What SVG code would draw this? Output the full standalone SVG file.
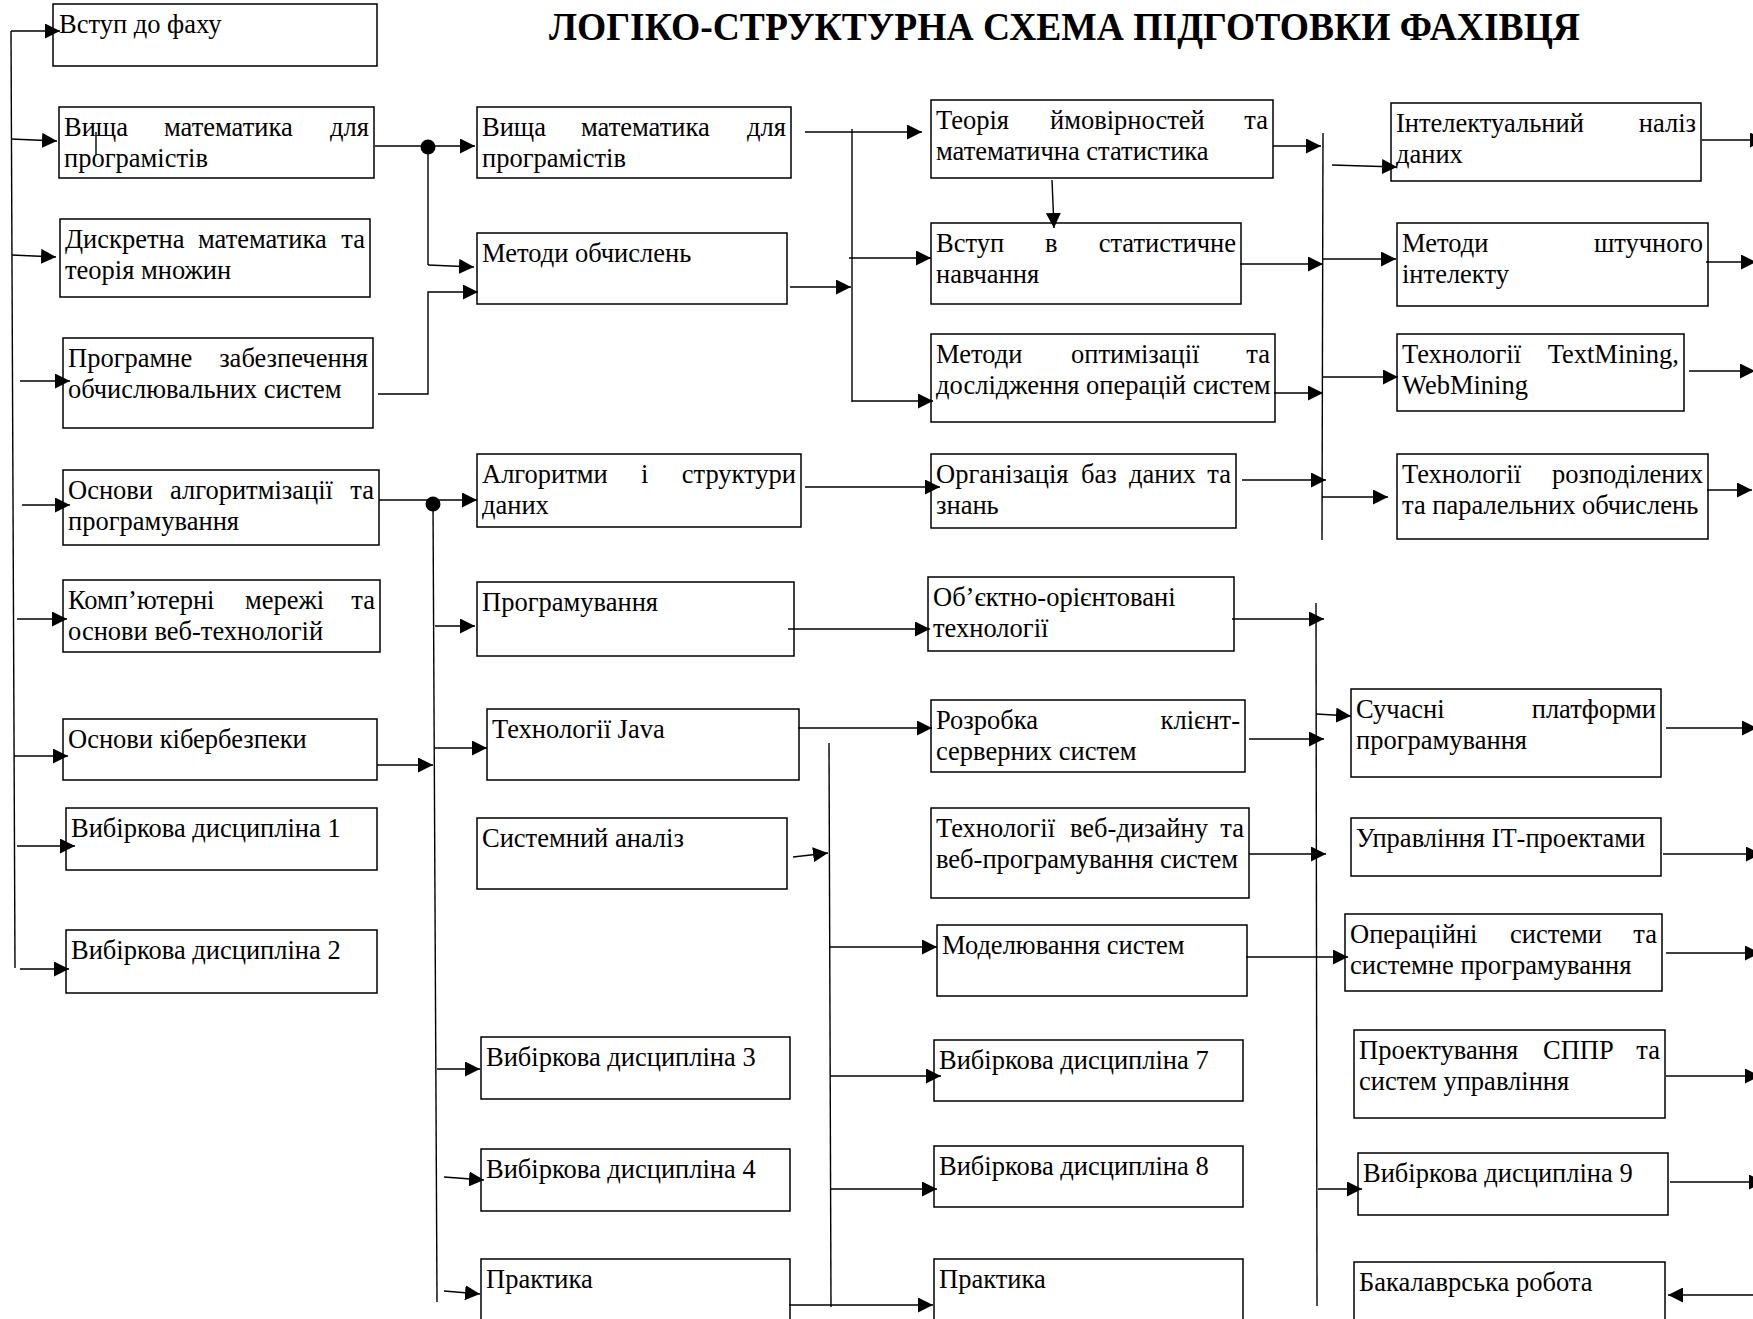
<svg xmlns="http://www.w3.org/2000/svg" width="1753" height="1319" viewBox="0 0 1753 1319">
<style>
.bg{fill:#fff}
.box{fill:#fff;stroke:#000;stroke-width:1.5}
.t{font-family:"Liberation Serif","Times New Roman",serif;font-size:26.5px;fill:#000}
.e{text-anchor:end}
.title{font-family:"Liberation Serif","Times New Roman",serif;font-size:41px;font-weight:bold;fill:#000}
.c{stroke:#000;stroke-width:1.4;fill:none}
.a{stroke:#000;stroke-width:1.4;fill:none;marker-end:url(#ah)}
.dot{fill:#000}
</style>
<defs>
<marker id="ah" viewBox="0 0 15 15" refX="15" refY="7.5" markerWidth="15" markerHeight="15" markerUnits="userSpaceOnUse" orient="auto"><path d="M0,0 L15,7.5 L0,15 z" fill="#000"/></marker>
</defs>
<rect class="bg" x="0" y="0" width="1753" height="1319"/>
<text class="title" x="549" y="40" textLength="1031" lengthAdjust="spacingAndGlyphs">ЛОГІКО-СТРУКТУРНА СХЕМА ПІДГОТОВКИ ФАХІВЦЯ</text>

<!-- Column 1 -->
<g id="n1"><rect class="box" x="53" y="4" width="324" height="62"/><text class="t" x="59" y="33">Вступ до фаху</text></g>
<g id="n2"><rect class="box" x="59" y="107" width="315" height="71"/><text class="t" x="64" y="136">Вища</text><text class="t" x="164" y="136">математика</text><text class="t e" x="369" y="136">для</text><text class="t" x="64" y="167">програмістів</text></g>
<g id="n3"><rect class="box" x="60" y="219" width="310" height="78"/><text class="t" x="65" y="248">Дискретна</text><text class="t" x="198" y="248">математика</text><text class="t e" x="365" y="248">та</text><text class="t" x="65" y="279">теорія множин</text></g>
<g id="n4"><rect class="box" x="63" y="338" width="310" height="90"/><text class="t" x="68" y="367">Програмне</text><text class="t e" x="368" y="367">забезпечення</text><text class="t" x="68" y="398">обчислювальних систем</text></g>
<g id="n5"><rect class="box" x="63" y="470" width="316" height="75"/><text class="t" x="68" y="499">Основи</text><text class="t" x="170" y="499">алгоритмізації</text><text class="t e" x="374" y="499">та</text><text class="t" x="68" y="530">програмування</text></g>
<g id="n6"><rect class="box" x="63" y="580" width="317" height="72"/><text class="t" x="68" y="609">Комп’ютерні</text><text class="t" x="245" y="609">мережі</text><text class="t e" x="375" y="609">та</text><text class="t" x="68" y="640">основи веб-технологій</text></g>
<g id="n7"><rect class="box" x="63" y="719" width="314" height="61"/><text class="t" x="68" y="748">Основи кібербезпеки</text></g>
<g id="n8"><rect class="box" x="66" y="808" width="311" height="62"/><text class="t" x="71" y="837">Вибіркова дисципліна 1</text></g>
<g id="n9"><rect class="box" x="66" y="930" width="311" height="63"/><text class="t" x="71" y="959">Вибіркова дисципліна 2</text></g>

<!-- Column 2 -->
<g id="m1"><rect class="box" x="477" y="107" width="314" height="71"/><text class="t" x="482" y="136">Вища</text><text class="t" x="581" y="136">математика</text><text class="t e" x="786" y="136">для</text><text class="t" x="482" y="167">програмістів</text></g>
<g id="m2"><rect class="box" x="477" y="233" width="310" height="71"/><text class="t" x="482" y="262">Методи обчислень</text></g>
<g id="m3"><rect class="box" x="477" y="454" width="324" height="73"/><text class="t" x="482" y="483">Алгоритми</text><text class="t" x="641" y="483">і</text><text class="t e" x="796" y="483">структури</text><text class="t" x="482" y="514">даних</text></g>
<g id="m4"><rect class="box" x="477" y="582" width="317" height="74"/><text class="t" x="482" y="611">Програмування</text></g>
<g id="m5"><rect class="box" x="487" y="709" width="312" height="71"/><text class="t" x="492" y="738">Технології Java</text></g>
<g id="m6"><rect class="box" x="477" y="818" width="310" height="71"/><text class="t" x="482" y="847">Системний аналіз</text></g>
<g id="m7"><rect class="box" x="481" y="1037" width="309" height="62"/><text class="t" x="486" y="1066">Вибіркова дисципліна 3</text></g>
<g id="m8"><rect class="box" x="481" y="1149" width="309" height="62"/><text class="t" x="486" y="1178">Вибіркова дисципліна 4</text></g>
<g id="m9"><rect class="box" x="481" y="1259" width="309" height="80"/><text class="t" x="486" y="1288">Практика</text></g>

<!-- Column 3 -->
<g id="k1"><rect class="box" x="931" y="100" width="342" height="78"/><text class="t" x="936" y="129">Теорія</text><text class="t" x="1050" y="129">ймовірностей</text><text class="t e" x="1268" y="129">та</text><text class="t" x="936" y="160">математична статистика</text></g>
<g id="k2"><rect class="box" x="931" y="223" width="310" height="81"/><text class="t" x="936" y="252">Вступ</text><text class="t" x="1045" y="252">в</text><text class="t e" x="1236" y="252">статистичне</text><text class="t" x="936" y="283">навчання</text></g>
<g id="k3"><rect class="box" x="931" y="334" width="344" height="88"/><text class="t" x="936" y="363">Методи</text><text class="t" x="1071" y="363">оптимізації</text><text class="t e" x="1270" y="363">та</text><text class="t" x="936" y="394">дослідження операцій систем</text></g>
<g id="k4"><rect class="box" x="931" y="454" width="305" height="74"/><text class="t" x="936" y="483">Організація</text><text class="t" x="1081" y="483">баз</text><text class="t" x="1129" y="483">даних</text><text class="t e" x="1231" y="483">та</text><text class="t" x="936" y="514">знань</text></g>
<g id="k5"><rect class="box" x="928" y="577" width="306" height="74"/><text class="t" x="933" y="606">Об’єктно-орієнтовані</text><text class="t" x="933" y="637">технології</text></g>
<g id="k6"><rect class="box" x="931" y="700" width="314" height="72"/><text class="t" x="936" y="729">Розробка</text><text class="t e" x="1240" y="729">клієнт-</text><text class="t" x="936" y="760">серверних систем</text></g>
<g id="k7"><rect class="box" x="931" y="808" width="318" height="90"/><text class="t" x="936" y="837">Технології</text><text class="t" x="1070" y="837">веб-дизайну</text><text class="t e" x="1244" y="837">та</text><text class="t" x="936" y="868">веб-програмування систем</text></g>
<g id="k8"><rect class="box" x="937" y="925" width="310" height="71"/><text class="t" x="942" y="954">Моделювання систем</text></g>
<g id="k9"><rect class="box" x="934" y="1040" width="309" height="61"/><text class="t" x="939" y="1069">Вибіркова дисципліна 7</text></g>
<g id="k10"><rect class="box" x="934" y="1146" width="309" height="61"/><text class="t" x="939" y="1175">Вибіркова дисципліна 8</text></g>
<g id="k11"><rect class="box" x="934" y="1259" width="309" height="80"/><text class="t" x="939" y="1288">Практика</text></g>

<!-- Column 4 -->
<g id="p1"><rect class="box" x="1391" y="103" width="310" height="78"/><text class="t" x="1396" y="132">Інтелектуальний</text><text class="t e" x="1696" y="132">наліз</text><text class="t" x="1396" y="163">даних</text></g>
<g id="p2"><rect class="box" x="1397" y="223" width="311" height="83"/><text class="t" x="1402" y="252">Методи</text><text class="t e" x="1703" y="252">штучного</text><text class="t" x="1402" y="283">інтелекту</text></g>
<g id="p3"><rect class="box" x="1397" y="334" width="287" height="77"/><text class="t" x="1402" y="363">Технології</text><text class="t e" x="1679" y="363">TextMining,</text><text class="t" x="1402" y="394">WebMining</text></g>
<g id="p4"><rect class="box" x="1397" y="454" width="311" height="85"/><text class="t" x="1402" y="483">Технології</text><text class="t e" x="1703" y="483">розподілених</text><text class="t" x="1402" y="514">та паралельних обчислень</text></g>
<g id="p5"><rect class="box" x="1351" y="689" width="310" height="88"/><text class="t" x="1356" y="718">Сучасні</text><text class="t e" x="1656" y="718">платформи</text><text class="t" x="1356" y="749">програмування</text></g>
<g id="p6"><rect class="box" x="1351" y="818" width="310" height="58"/><text class="t" x="1356" y="847">Управління ІТ-проектами</text></g>
<g id="p7"><rect class="box" x="1345" y="914" width="317" height="77"/><text class="t" x="1350" y="943">Операційні</text><text class="t" x="1510" y="943">системи</text><text class="t e" x="1657" y="943">та</text><text class="t" x="1350" y="974">системне програмування</text></g>
<g id="p8"><rect class="box" x="1354" y="1030" width="311" height="88"/><text class="t" x="1359" y="1059">Проектування</text><text class="t" x="1543" y="1059">СППР</text><text class="t e" x="1660" y="1059">та</text><text class="t" x="1359" y="1090">систем управління</text></g>
<g id="p9"><rect class="box" x="1358" y="1153" width="310" height="62"/><text class="t" x="1363" y="1182">Вибіркова дисципліна 9</text></g>
<g id="p10"><rect class="box" x="1354" y="1262" width="311" height="80"/><text class="t" x="1359" y="1291">Бакалаврська робота</text></g>

<g id="connectors">
<!-- left bus -->
<path class="c" d="M11,31 L15,968"/>
<path class="a" d="M11,31 L60,31"/>
<path class="a" d="M11,139 L57,141"/>
<path class="a" d="M12,255 L56,257"/>
<path class="a" d="M20,381 L70,381"/>
<path class="a" d="M22,505 L70,505"/>
<path class="a" d="M17,619 L67,619"/>
<path class="a" d="M14,756 L68,756"/>
<path class="a" d="M17,846 L75,846"/>
<path class="a" d="M20,969 L69,969"/>
<path class="c" d="M96,132 L96,155"/>
<!-- col1 to col2 -->
<path class="c" d="M375,146 L428,146"/>
<circle class="dot" cx="428" cy="147" r="7.5"/>
<path class="a" d="M428,146 L475,146"/>
<path class="c" d="M428,147 L428,265"/>
<path class="a" d="M428,265 L474,267"/>
<path class="a" d="M378,394 H428 V292 H478"/>
<path class="c" d="M379,500 L433,500"/>
<circle class="dot" cx="433" cy="504" r="7.5"/>
<path class="a" d="M433,500 L477,500"/>
<path class="c" d="M433,504 L437,1302"/>
<path class="a" d="M435,626 L475,626"/>
<path class="a" d="M435,748 L487,748"/>
<path class="a" d="M437,1069 L480,1069"/>
<path class="a" d="M444,1177 L484,1180"/>
<path class="a" d="M444,1291 L480,1294"/>
<path class="a" d="M377,765 L433,765"/>
<!-- col2 to col3 -->
<path class="a" d="M805,132 L922,132"/>
<path class="c" d="M852,129 L852,402"/>
<path class="a" d="M790,287 L851,287"/>
<path class="a" d="M849,258 L931,258"/>
<path class="a" d="M852,401 L933,401"/>
<path class="a" d="M1052,180 L1054,228"/>
<path class="a" d="M805,487 L940,487"/>
<path class="a" d="M788,629 L930,629"/>
<path class="a" d="M798,728 L932,728"/>
<path class="c" d="M829,743 L831,1307"/>
<path class="a" d="M793,857 L828,853"/>
<path class="a" d="M830,947 L937,947"/>
<path class="a" d="M830,1076 L941,1076"/>
<path class="a" d="M830,1189 L937,1189"/>
<path class="a" d="M789,1305 L933,1305"/>
<!-- col3 to col4 upper -->
<path class="c" d="M1323,133 L1322,540"/>
<path class="a" d="M1273,146 L1321,146"/>
<path class="a" d="M1240,264 L1323,264"/>
<path class="a" d="M1274,393 L1323,393"/>
<path class="a" d="M1242,480 L1326,480"/>
<path class="a" d="M1332,165 L1397,167"/>
<path class="a" d="M1322,259 L1396,259"/>
<path class="a" d="M1322,377 L1398,377"/>
<path class="a" d="M1322,497 L1388,497"/>
<!-- col3 to col4 lower -->
<path class="c" d="M1316,603 L1317,1306"/>
<path class="a" d="M1232,619 L1324,619"/>
<path class="a" d="M1249,739 L1324,739"/>
<path class="a" d="M1249,854 L1326,854"/>
<path class="a" d="M1246,957 L1348,957"/>
<path class="a" d="M1316,714 L1351,716"/>
<path class="a" d="M1318,1189 L1362,1189"/>
<!-- outgoing right -->
<path class="a" d="M1702,140 L1765,140"/>
<path class="a" d="M1706,262 L1756,262"/>
<path class="a" d="M1689,371 L1755,371"/>
<path class="a" d="M1707,490 L1752,490"/>
<path class="a" d="M1666,728 L1757,728"/>
<path class="a" d="M1663,854 L1761,854"/>
<path class="a" d="M1666,953 L1760,953"/>
<path class="a" d="M1666,1076 L1760,1076"/>
<path class="a" d="M1670,1182 L1764,1182"/>
<path class="a" d="M1760,1295 L1668,1295"/>
</g>
</svg>
